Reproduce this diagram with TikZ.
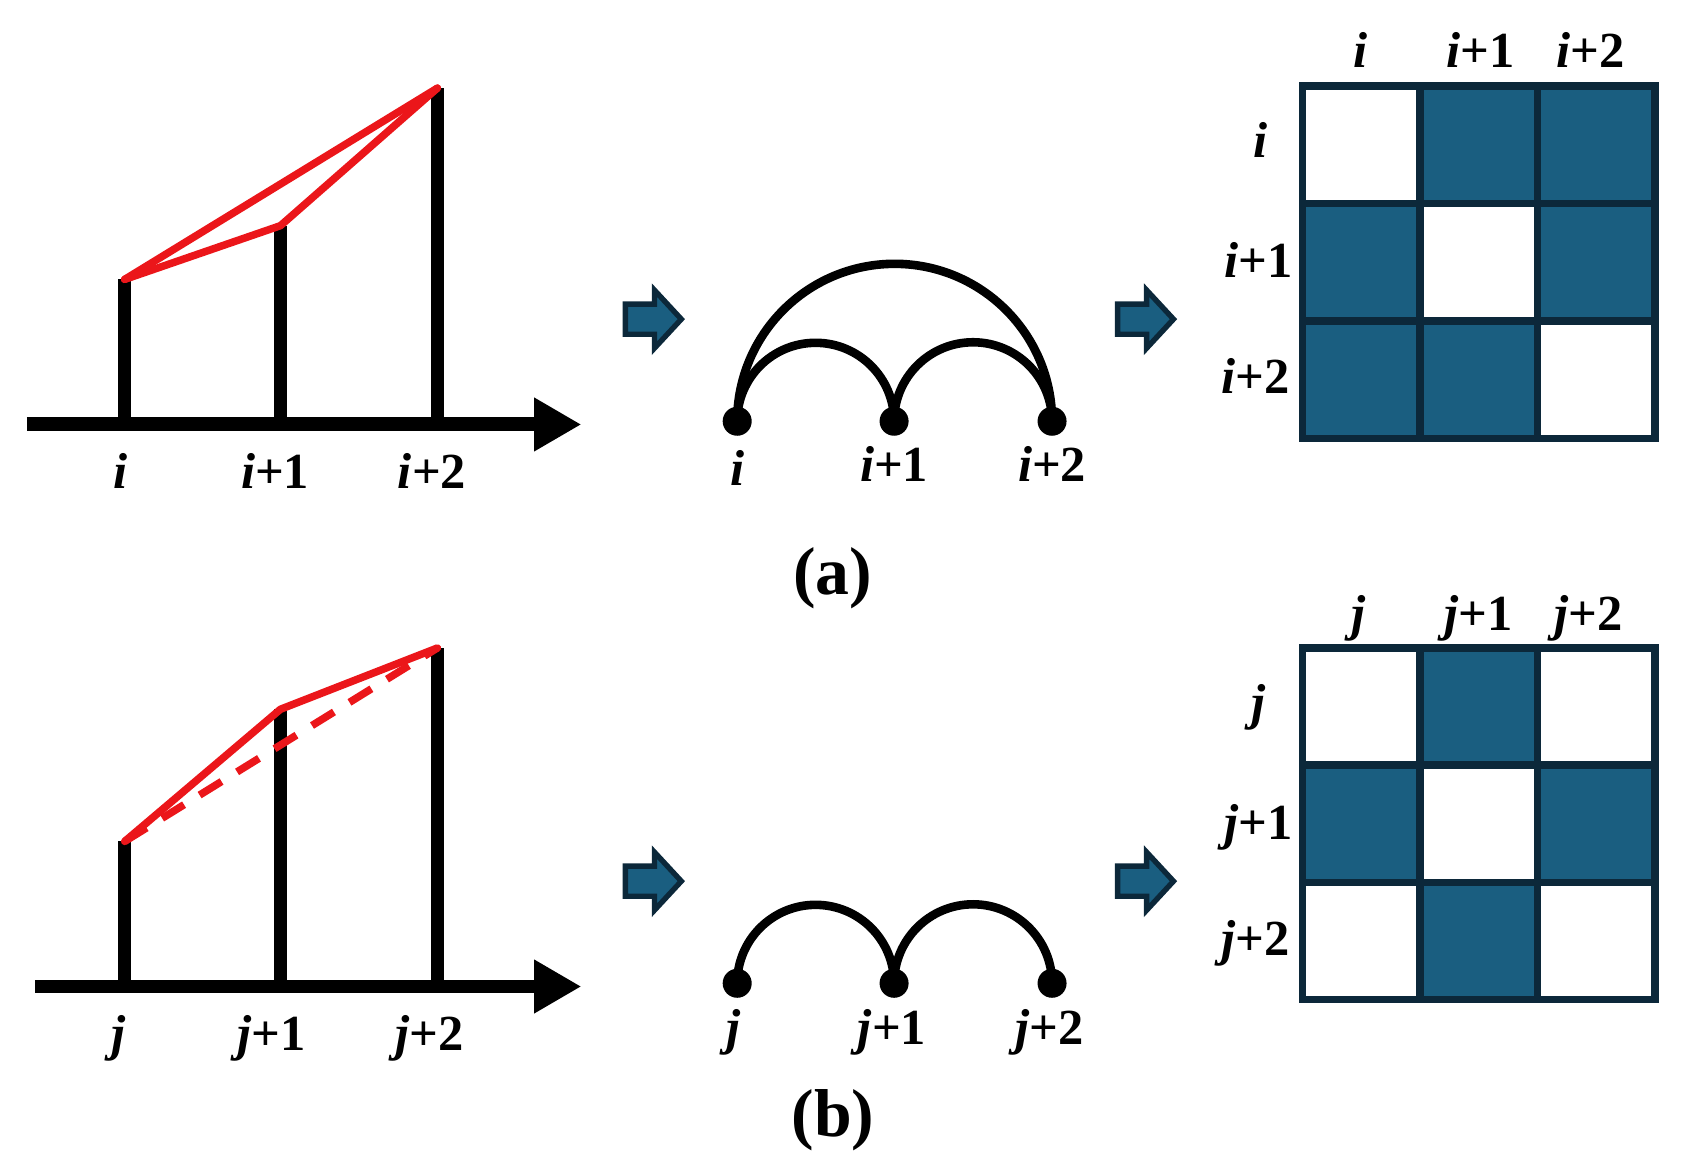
\documentclass[tikz,border=0pt]{standalone}
\usepackage{fontspec}
\setmainfont{Liberation Serif}
\usetikzlibrary{arrows.meta}
\definecolor{teal1}{RGB}{26,94,128}
\definecolor{navy1}{RGB}{12,40,58}
\definecolor{red1}{RGB}{235,22,26}
\tikzset{
  lab/.style={font=\fontsize{47}{50}\selectfont\bfseries, inner sep=0pt, anchor=base},
  captionlab/.style={font=\fontsize{63}{66}\selectfont\bfseries, inner sep=0pt, anchor=base},
  bar/.style={line width=12pt, black},
  axis/.style={line width=13pt, black, -{Triangle[length=44pt,width=47pt]}},
  redl/.style={line width=7pt, red1, line join=round, line cap=round},
  reddash/.style={line width=7pt, red1, dash pattern=on 24pt off 17pt},
  dot/.style={circle, fill=black, minimum size=27pt, inner sep=0pt},
  arcl/.style={line width=8pt, black},
  blockarrow/.style={fill=teal1, draw=navy1, line width=5pt, line join=miter},
  cellb/.style={fill=teal1},
  gridl/.style={draw=navy1, line width=7pt}
}
\newcommand{\il}[1]{\textit{i}#1}
\newcommand{\jl}[1]{\textit{j}#1}
\begin{document}
\begin{tikzpicture}[x=1pt,y=-1pt]
\useasboundingbox (0,0) rectangle (1568,1083);

% ================= ROW (a) =================
\coordinate (ab1) at (116,395); \coordinate (at1) at (116,260);
\coordinate (ab2) at (261,395); \coordinate (at2) at (261,210);
\coordinate (ab3) at (407,395); \coordinate (at3) at (407,82);
\draw[bar] (ab1) -- (at1);
\draw[bar] (ab2) -- (at2);
\draw[bar] (ab3) -- (at3);
\coordinate (aaxs) at (25,395); \coordinate (aaxe) at (541,395);
\draw[axis] (aaxs) -- (aaxe);
\draw[redl] (at1) -- (at3);
\draw[redl] (at1) -- (at2) -- (at3);
\node[lab] (al1) at (112,455) {\il{}};
\node[lab] (al2) at (256,455) {\il{+1}};
\node[lab] (al3) at (402,455) {\il{+2}};

\draw[blockarrow] (582,283) -- (609,283) -- (609,270) -- (634,297) -- (609,324) -- (609,311) -- (582,311) -- cycle;

\node[dot] (an1) at (686,392) {};
\node[dot] (an2) at (832,392) {};
\node[dot] (an3) at (979,392) {};
\draw[arcl] (an1.center) arc[start angle=180,end angle=0,radius=73pt];
\draw[arcl] (an2.center) arc[start angle=180,end angle=0,radius=73.5pt];
\draw[arcl] (an1.center) arc[start angle=180,end angle=0,radius=146.5pt];
\node[lab] (anl1) at (686,452) {\il{}};
\node[lab] (anl2) at (832,448) {\il{+1}};
\node[lab] (anl3) at (979,448) {\il{+2}};

\draw[blockarrow] (1040,283) -- (1067,283) -- (1067,270) -- (1092,297) -- (1067,324) -- (1067,311) -- (1040,311) -- cycle;

\fill[white] (1212,80) rectangle (1540,408);
\fill[cellb] (1321.3,80) rectangle (1540,189.3);
\fill[cellb] (1212,189.3) rectangle (1321.3,298.7);
\fill[cellb] (1430.7,189.3) rectangle (1540,298.7);
\fill[cellb] (1212,298.7) rectangle (1430.7,408);
\draw[gridl] (1212,80) rectangle (1540,408);
\draw[gridl] (1321.3,80) -- (1321.3,408);
\draw[gridl] (1430.7,80) -- (1430.7,408);
\draw[gridl] (1212,189.3) -- (1540,189.3);
\draw[gridl] (1212,298.7) -- (1540,298.7);
\node[lab] (ac1) at (1266,63) {\il{}};
\node[lab] (ac2) at (1378,63) {\il{+1}};
\node[lab] (ac3) at (1480,63) {\il{+2}};
\node[lab, anchor=base east] (ar1) at (1180,147) {\il{}};
\node[lab, anchor=base east] (ar2) at (1203,258) {\il{+1}};
\node[lab, anchor=base east] (ar3) at (1200,366) {\il{+2}};

\node[captionlab] (capa) at (775,553) {(a)};

% ================= ROW (b) =================
\coordinate (bb1) at (116,918); \coordinate (bt1) at (116,783);
\coordinate (bb2) at (261,918); \coordinate (bt2) at (261,660);
\coordinate (bb3) at (407,918); \coordinate (bt3) at (407,603);
\draw[bar] (bb1) -- (bt1);
\draw[bar] (bb2) -- (bt2);
\draw[bar] (bb3) -- (bt3);
\coordinate (baxs) at (33,918); \coordinate (baxe) at (541,918);
\draw[axis] (baxs) -- (baxe);
\draw[reddash] (bt1) -- (bt3);
\draw[redl] (bt1) -- (bt2) -- (bt3);
\node[lab] (bl1) at (110,978) {\jl{}};
\node[lab] (bl2) at (253,978) {\jl{+1}};
\node[lab] (bl3) at (400,978) {\jl{+2}};

\draw[blockarrow] (582,806) -- (609,806) -- (609,793) -- (634,820) -- (609,847) -- (609,834) -- (582,834) -- cycle;

\node[dot] (bn1) at (686,915) {};
\node[dot] (bn2) at (832,915) {};
\node[dot] (bn3) at (979,915) {};
\draw[arcl] (bn1.center) arc[start angle=180,end angle=0,radius=73pt];
\draw[arcl] (bn2.center) arc[start angle=180,end angle=0,radius=73.5pt];
\node[lab] (bnl1) at (683,972) {\jl{}};
\node[lab] (bnl2) at (830,972) {\jl{+1}};
\node[lab] (bnl3) at (977,972) {\jl{+2}};

\draw[blockarrow] (1040,806) -- (1067,806) -- (1067,793) -- (1092,820) -- (1067,847) -- (1067,834) -- (1040,834) -- cycle;

\fill[white] (1212,603) rectangle (1540,930);
\fill[cellb] (1321.3,603) rectangle (1430.7,712);
\fill[cellb] (1212,712) rectangle (1321.3,821);
\fill[cellb] (1430.7,712) rectangle (1540,821);
\fill[cellb] (1321.3,821) rectangle (1430.7,930);
\draw[gridl] (1212,603) rectangle (1540,930);
\draw[gridl] (1321.3,603) -- (1321.3,930);
\draw[gridl] (1430.7,603) -- (1430.7,930);
\draw[gridl] (1212,712) -- (1540,712);
\draw[gridl] (1212,821) -- (1540,821);
\node[lab] (bc1) at (1264,587) {\jl{}};
\node[lab] (bc2) at (1376,587) {\jl{+1}};
\node[lab] (bc3) at (1478,587) {\jl{+2}};
\node[lab, anchor=base east] (br1) at (1178,670) {\jl{}};
\node[lab, anchor=base east] (br2) at (1203,781) {\jl{+1}};
\node[lab, anchor=base east] (br3) at (1200,889) {\jl{+2}};

\node[captionlab] (capb) at (775,1058) {(b)};
\end{tikzpicture}
\end{document}
